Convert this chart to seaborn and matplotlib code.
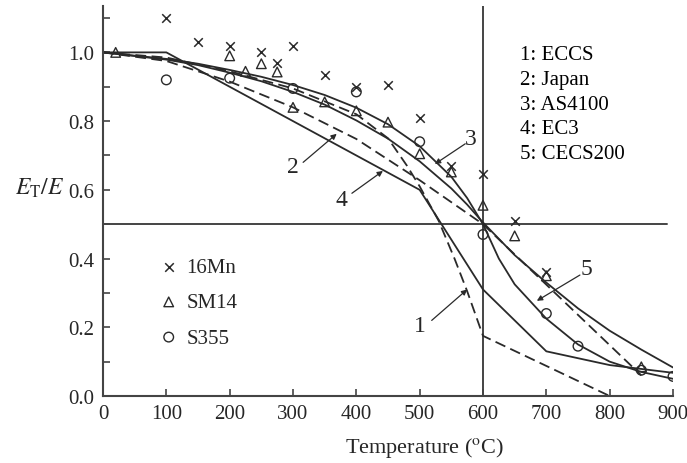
import matplotlib
matplotlib.use("Agg")
import matplotlib.pyplot as plt
from matplotlib.ticker import MultipleLocator
import numpy as np
import pandas as pd
import seaborn as sns

# ---- data ----
eccs_T = [0, 100, 200, 300, 400, 450, 480, 500, 530, 555, 575, 600, 800]
eccs_V = [1.0, 0.985, 0.945, 0.895, 0.82, 0.75, 0.67, 0.61, 0.51, 0.40, 0.305, 0.175, 0.0]

japan_T = [0, 100, 200, 300, 400, 500, 600, 850]
japan_V = [1.0, 0.975, 0.915, 0.84, 0.748, 0.628, 0.5, 0.06]

as4100_T = [0, 100, 150, 200, 250, 300, 350, 400, 450, 500, 550, 575, 600,
            650, 700, 750, 800, 850, 900]
as4100_V = [1.0, 0.979, 0.963, 0.941, 0.916, 0.885, 0.848, 0.802, 0.749, 0.683,
            0.604, 0.557, 0.505, 0.41, 0.33, 0.255, 0.19, 0.135, 0.083]

ec3_T = [0, 100, 200, 300, 400, 500, 600, 700, 800, 900]
ec3_V = [1.0, 1.0, 0.9, 0.8, 0.7, 0.6, 0.31, 0.13, 0.09, 0.0675]

cecs_T = [0, 100, 150, 200, 250, 300, 350, 400, 450, 500, 550, 575, 600,
          625, 650, 700, 750, 800, 850, 900]
cecs_V = [1.0, 0.981, 0.967, 0.949, 0.929, 0.905, 0.876, 0.839, 0.791, 0.727,
          0.638, 0.576, 0.5, 0.40, 0.325, 0.225, 0.15, 0.10, 0.07, 0.05]

mn16_T = [100, 150, 200, 250, 275, 300, 350, 400, 450, 500, 550, 600, 650, 700]
mn16_V = [1.10, 1.03, 1.02, 1.00, 0.97, 1.02, 0.935, 0.90, 0.905, 0.81, 0.67,
          0.645, 0.51, 0.36]

sm14_T = [20, 200, 225, 250, 275, 300, 350, 400, 450, 500, 550, 600, 650, 700, 850]
sm14_V = [1.0, 0.99, 0.945, 0.967, 0.943, 0.84, 0.856, 0.83, 0.797, 0.705,
          0.652, 0.555, 0.466, 0.35, 0.085]

s355_T = [100, 200, 300, 400, 500, 600, 700, 750, 850, 900]
s355_V = [0.92, 0.925, 0.895, 0.885, 0.74, 0.47, 0.24, 0.145, 0.075, 0.057]

code_labels = ["1: ECCS", "2: Japan", "3: AS4100", "4: EC3", "5: CECS200"]
xticks = [0, 100, 200, 300, 400, 500, 600, 700, 800, 900]
yticks = [0.0, 0.2, 0.4, 0.6, 0.8, 1.0]

# ---- style ----
sns.set_style("ticks")
plt.rcParams["font.family"] = ["Liberation Serif", "DejaVu Serif"]
plt.rcParams["mathtext.fontset"] = "stix"

INK = "#2a2a2a"
fig = plt.figure(figsize=(6.87, 4.64), dpi=100)
ax = fig.add_axes([103 / 687, 67 / 464, 570 / 687, 390 / 464])

# reference lines
ax.axhline(0.5, xmin=0, xmax=0.99, color="#444444", lw=1.4, zorder=1)
ax.axvline(600, color="#444444", lw=1.4, zorder=1)

curves = [
    (eccs_T, eccs_V, (6, 3)),
    (japan_T, japan_V, (6, 3)),
    (as4100_T, as4100_V, None),
    (ec3_T, ec3_V, None),
    (cecs_T, cecs_V, None),
]
for T, V, dash in curves:
    df = pd.DataFrame({"T": T, "V": V})
    sns.lineplot(data=df, x="T", y="V", ax=ax, color=INK, lw=1.3,
                 sort=False, estimator=None, legend=False)
    if dash is not None:
        ax.lines[-1].set_dashes(dash)

sns.scatterplot(x=mn16_T, y=mn16_V, ax=ax, marker="x", s=38, color=INK,
                linewidth=1.1, label="16Mn", zorder=5)
sns.scatterplot(x=sm14_T, y=sm14_V, ax=ax, marker="^", s=48, facecolor="none",
                edgecolor=INK, linewidth=1.0, label="SM14", zorder=5)
sns.scatterplot(x=s355_T, y=s355_V, ax=ax, marker="o", s=48, facecolor="none",
                edgecolor=INK, linewidth=1.0, label="S355", zorder=5)

ax.legend(loc="upper left", bbox_to_anchor=(0.097, 0.355), frameon=False,
          borderaxespad=0, borderpad=0, handlelength=1.0,
          handletextpad=0.35, labelspacing=0.75, fontsize=15)

# standards key
ax.text(658, 1.022, "\n".join(code_labels), fontsize=15, va="top", ha="left",
        linespacing=1.42, color="black")

# curve labels with pointers
labels = [
    ("1", (500, 0.204), (519, 0.22), (575, 0.31)),
    ("2", (300, 0.667), (316, 0.68), (369, 0.763)),
    ("3", (580, 0.748), (572, 0.734), (524, 0.675)),
    ("4", (376, 0.573), (393, 0.59), (442, 0.655)),
    ("5", (763, 0.37), (753, 0.352), (685, 0.277)),
]
for txt, pos, start, end in labels:
    ax.text(pos[0], pos[1], txt, fontsize=17, ha="center", va="center")
    ax.annotate("", xy=end, xytext=start,
                arrowprops=dict(arrowstyle="-|>", color=INK, lw=0.9,
                                mutation_scale=8, shrinkA=0, shrinkB=0))

ax.set_xlim(0, 900)
ax.set_ylim(0, 1.135)
ax.set_xticks(xticks)
ax.set_yticks(yticks)
ax.set_yticklabels([f"{v:.1f}" for v in yticks])
ax.yaxis.set_minor_locator(MultipleLocator(0.1))
ax.tick_params(axis="both", which="both", direction="in", length=5, width=1.2,
               color="#444444", labelsize=15, pad=6)
ax.tick_params(axis="x", which="minor", length=0)
sns.despine(ax=ax)
for s in ["left", "bottom"]:
    ax.spines[s].set_color("#444444")
    ax.spines[s].set_linewidth(1.5)
ax.set_xlabel("")
ax.set_ylabel("")

fig.text(425 / 687, 1 - 448 / 464, r"Temperature ($^{\mathrm{o}}$C)", fontsize=16,
         ha="center", va="center")
fig.text(40 / 687, 1 - 188 / 464, r"$E_{\mathrm{T}}/E$", fontsize=17,
         ha="center", va="center")

fig.savefig("out.png", dpi=100)
